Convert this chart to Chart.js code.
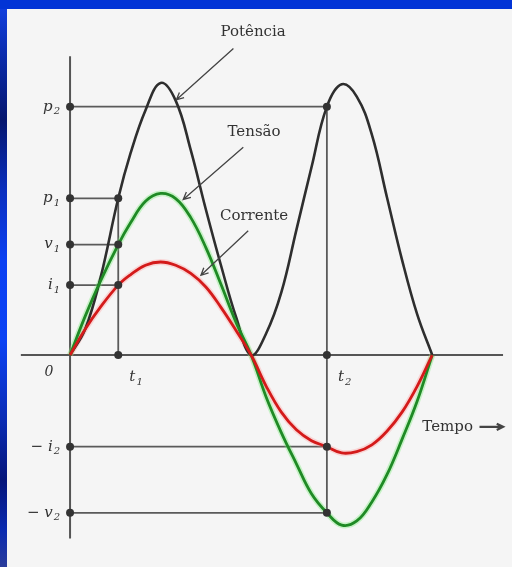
<!DOCTYPE html>
<html lang="pt">
<head>
<meta charset="utf-8">
<title>Potência, tensão e corrente</title>
<script src="https://cdn.jsdelivr.net/npm/chart.js@4.4.1/dist/chart.umd.min.js"></script>
<style>
  html, body { margin: 0; padding: 0; }
  body { width: 512px; height: 567px; position: relative; overflow: hidden; background: #f5f5f5; }
  #sidebar {
    position: absolute; left: 0; top: 0; width: 7px; height: 567px;
    background: linear-gradient(to bottom, #1242e6 0px, #0a2aa8 60px, #05166e 120px, #0a2fbe 190px,
      #0a40f2 260px, #0a42f4 340px, #0a2cb4 420px, #05157a 480px, #0a2ab0 530px, #2a3c9a 567px);
  }
  #topbar { position: absolute; left: 0; top: 0; width: 512px; height: 9px; background: #0234d6; }
  #plot { position: absolute; left: 7px; top: 9px; background: #f5f5f5; }
</style>
</head>
<body>
<div id="sidebar"></div>
<div id="topbar"></div>
<canvas id="plot" width="505" height="558"></canvas>
<script>
    // Curve samples: x in electrical degrees, y in relative units (power peak = 100)
    const powerT = [0, 15, 30, 47.9, 60, 75, 90, 105, 120, 135, 150, 165, 180,
                    195, 210, 225, 240, 255.3, 270, 285, 300, 315, 330, 345, 360];
    const powerY = [0, 9.5, 28, 57.6, 74, 90, 100, 93.5, 75.3, 53.5, 33, 14, 0,
                    8, 23, 46, 69, 91.3, 99.5, 95, 81, 58, 35, 15, 0];

    const voltT = [0, 15, 30, 47.9, 60, 75, 90, 105, 120, 135, 150, 165, 180,
                   195, 210, 225, 240, 255.3, 270, 285, 300, 315, 330, 345, 360];
    const voltY = [0, 14.2, 27, 40.6, 48.5, 56.5, 59.4, 57.5, 50.5, 39.5, 26, 12, 0,
                   -15.5, -28.5, -40, -51, -58, -62.5, -61, -54, -44, -31, -17, 0];

    const currT = [0, 15, 30, 47.9, 60, 75, 90, 105, 120, 135, 150, 165, 180,
                   195, 210, 225, 240, 255.3, 270, 285, 300, 315, 330, 345, 360];
    const currY = [0, 9.5, 17.5, 25.7, 29.5, 33, 34.2, 33, 30, 25, 17.5, 9, 0,
                   -11.5, -21, -27.5, -31.5, -33.7, -36, -35.5, -33, -28, -21, -11.5, 0];

    // Marked instants and the levels read at them
    const t1 = 47.9, t2 = 255.3;
    const timeNames = ['t', 't'];
    const timeSubs = ['1', '2'];
    const levelNames = ['p', 'p', 'v', 'i', '\u2212 i', '\u2212 v'];
    const levelSubs = ['2', '1', '1', '1', '2', '2'];
    const levelValues = [91.3, 57.6, 40.6, 25.7, -33.7, -58.0];
    const levelTimes = [t2, t1, t1, t1, t2, t2];

    // Extent of the two drawn axes
    const xAxisSpan = [-48.9, 430.4];
    const yAxisSpan = [-67.4, 109.8];

    // Curve names with the arrow pointing at each curve
    const curveNames = ['Pot\u00eancia', 'Tens\u00e3o', 'Corrente'];
    const namePos = [[182.0, 118.8], [182.9, 81.9], [182.9, 51.1]];
    const arrowFrom = [[162.4, 112.7], [172.2, 76.4], [177.1, 45.7]];
    const arrowTo = [[105.7, 93.8], [112.5, 57.2], [130.1, 29.3]];
    const timeAxisName = 'Tempo';
    const timeNamePos = [350.2, -26.4];
    const timeArrow = [407, 430.4];

    const pts = (xs, ys) => xs.map((v, i) => ({ x: v, y: ys[i] }));

    // guide lines from the vertical axis to each marked instant
    const guideSets = levelValues.map((v, i) => ({
        data: [{ x: 0, y: v }, { x: levelTimes[i], y: v }],
        borderColor: '#5a5a5a', borderWidth: 1.8, order: 8
    }));
    guideSets.push({ data: [{ x: t1, y: 0 }, { x: t1, y: levelValues[1] }], borderColor: '#5a5a5a', borderWidth: 1.8, order: 8 });
    guideSets.push({ data: [{ x: t2, y: levelValues[0] }, { x: t2, y: levelValues[5] }], borderColor: '#5a5a5a', borderWidth: 1.8, order: 8 });

    const markers = levelValues.map(v => ({ x: 0, y: v }))
        .concat(levelValues.map((v, i) => ({ x: levelTimes[i], y: v })))
        .concat([{ x: t1, y: 0 }, { x: t2, y: 0 }]);

    function subLabel(ctx, base, sub, right, mid) {
        ctx.font = 'italic 15px "DejaVu Serif"';
        const wb = ctx.measureText(base).width;
        ctx.font = 'italic 10px "DejaVu Serif"';
        const ws = ctx.measureText(sub).width;
        const left = right - wb - ws - 1;
        ctx.font = 'italic 15px "DejaVu Serif"';
        ctx.fillText(base, left, mid);
        ctx.font = 'italic 10px "DejaVu Serif"';
        ctx.fillText(sub, left + wb + 1, mid + 5);
        return wb + ws + 1;
    }

    function arrow(ctx, x0, y0, x1, y1, head) {
        const a = Math.atan2(y1 - y0, x1 - x0);
        ctx.beginPath();
        ctx.moveTo(x0, y0);
        ctx.lineTo(x1, y1);
        ctx.moveTo(x1 - head * Math.cos(a - 0.45), y1 - head * Math.sin(a - 0.45));
        ctx.lineTo(x1, y1);
        ctx.lineTo(x1 - head * Math.cos(a + 0.45), y1 - head * Math.sin(a + 0.45));
        ctx.stroke();
    }

    const labelPlugin = {
        id: 'figureLabels',
        afterDatasetsDraw(chart) {
            const { ctx, scales: { x, y } } = chart;
            const px = v => x.getPixelForValue(v);
            const py = v => y.getPixelForValue(v);
            ctx.save();
            ctx.fillStyle = '#333';
            ctx.strokeStyle = '#444';
            ctx.textBaseline = 'middle';
            ctx.textAlign = 'left';

            // level names left of the vertical axis
            levelNames.forEach((name, i) => subLabel(ctx, name, levelSubs[i], px(0) - 10, py(levelValues[i])));

            // origin and instants under the time axis
            ctx.font = 'italic 14px "DejaVu Serif"';
            ctx.textAlign = 'center';
            ctx.fillText('0', px(0) - 21, py(0) + 17);
            ctx.textAlign = 'left';
            [t1, t2].forEach((t, i) => {
                ctx.font = 'italic 15px "DejaVu Serif"';
                const w = ctx.measureText(timeNames[i]).width + 7;
                subLabel(ctx, timeNames[i], timeSubs[i], px(t) + 18 + w / 2, py(0) + 22);
            });

            // curve names with pointer arrows
            ctx.font = '15px "DejaVu Serif"';
            ctx.textAlign = 'center';
            ctx.lineWidth = 1.3;
            curveNames.forEach((name, i) => {
                ctx.fillText(name, px(namePos[i][0]), py(namePos[i][1]));
                arrow(ctx, px(arrowFrom[i][0]), py(arrowFrom[i][1]), px(arrowTo[i][0]), py(arrowTo[i][1]), 8);
            });

            ctx.textAlign = 'left';
            ctx.fillText(timeAxisName, px(timeNamePos[0]), py(timeNamePos[1]));
            ctx.lineWidth = 2.2;
            arrow(ctx, px(timeArrow[0]), py(timeNamePos[1]), px(timeArrow[1]), py(timeNamePos[1]), 7);
            ctx.restore();
        }
    };

    new Chart(document.getElementById('plot'), {
        type: 'scatter',
        data: {
            datasets: [
                { data: markers, pointRadius: 4, pointBackgroundColor: '#333', pointBorderWidth: 0, showLine: false, order: 0 },
                { data: pts(powerT, powerY), borderColor: '#2e2e2e', borderWidth: 2.6, order: 3 },
                { data: pts(voltT, voltY), borderColor: '#1f8a25', borderWidth: 2.8, order: 2 },
                { data: pts(voltT, voltY), borderColor: 'rgba(110, 235, 110, 0.35)', borderWidth: 6, order: 5 },
                { data: pts(currT, currY), borderColor: '#d41a1a', borderWidth: 2.8, order: 1 },
                { data: pts(currT, currY), borderColor: 'rgba(255, 140, 140, 0.3)', borderWidth: 6, order: 6 },
                { data: [{ x: xAxisSpan[0], y: 0 }, { x: xAxisSpan[1], y: 0 }], borderColor: '#555', borderWidth: 2, order: 9 },
                { data: [{ x: 0, y: yAxisSpan[1] }, { x: 0, y: yAxisSpan[0] }], borderColor: '#555', borderWidth: 2, order: 9 },
                ...guideSets
            ].map(ds => Object.assign({ showLine: true, pointRadius: 0, tension: 0.4, clip: false }, ds))
        },
        options: {
            responsive: false,
            animation: false,
            events: [],
            layout: { padding: 0 },
            plugins: { legend: { display: false }, tooltip: { enabled: false } },
            scales: {
                x: { type: 'linear', display: false, min: -58.7, max: 435.33 },
                y: { type: 'linear', display: false, min: -76.45, max: 125.72 }
            }
        },
        plugins: [labelPlugin]
    });
</script>
</body>
</html>
